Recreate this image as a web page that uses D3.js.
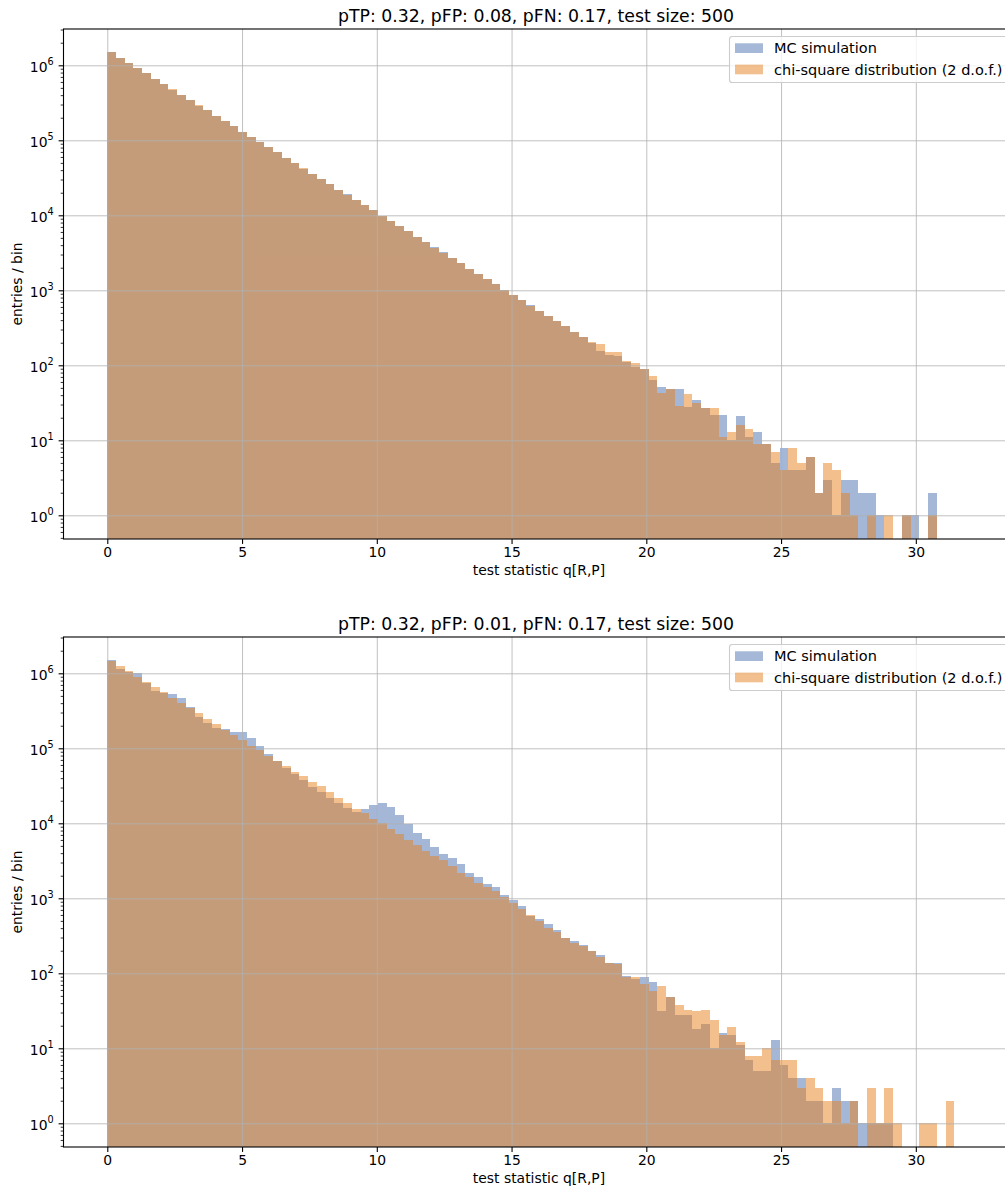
<!DOCTYPE html>
<html>
<head>
<meta charset="utf-8">
<script src="https://cdn.jsdelivr.net/npm/d3@7"></script>
<style>
  body { margin: 0; background: #fff; }
  svg { display: block; font-family: "DejaVu Sans", sans-serif; }
</style>
</head>
<body>
<svg id="chart" width="1005" height="1189"></svg>
<script>
// ----- data (entries per bin, bin width ~0.324) -----
const binWidth = 0.324;
const xTicks = [0, 5, 10, 15, 20, 25, 30];
const yTicks = [1, 10, 100, 1e3, 1e4, 1e5, 1e6];
const seriesNames = ["MC simulation", "chi-square distribution (2 d.o.f.)"];
const panelTitles = ["pTP: 0.32, pFP: 0.08, pFN: 0.17, test size: 500",
                     "pTP: 0.32, pFP: 0.01, pFN: 0.17, test size: 500"];

const mcCountsTop = [1.49e6,1.27e6,1.08e6,9.2e5,7.8e5,6.6e5,5.6e5,4.75e5,4.05e5,3.45e5,
  2.9e5,2.5e5,2.1e5,1.8e5,1.54e5,1.3e5,1.11e5,9.4e4,8.1e4,6.9e4,
  5.8e4,4.95e4,4.2e4,3.6e4,3.05e4,2.6e4,2.2e4,1.9e4,1.6e4,1.36e4,
  1.16e4,9.9e3,8.4e3,7.1e3,6.1e3,5.2e3,4.4e3,3.75e3,3.2e3,2.7e3,
  2.3e3,1.95e3,1.66e3,1.41e3,1.2e3,1.02e3,870,740,630,535,
  455,385,330,280,237,200,155,137,135,110,
  96,89,63,52,49,49,28,34,27,22,
  22,10,21,11,13,9,5,8,4,4,
  6,2,3,1,3,3,2,2,1,0,
  0,1,1,0,2];
const chiCountsTop = [1.49e6,1.27e6,1.08e6,9.2e5,7.8e5,6.6e5,5.6e5,4.78e5,4.05e5,3.46e5,
  2.92e5,2.5e5,2.12e5,1.8e5,1.53e5,1.31e5,1.11e5,9.5e4,8.1e4,6.9e4,
  5.85e4,4.95e4,4.25e4,3.6e4,3.05e4,2.6e4,2.2e4,1.88e4,1.6e4,1.36e4,
  1.16e4,9.8e3,8.4e3,7.1e3,6.1e3,5.15e3,4.4e3,3.7e3,3.15e3,2.7e3,
  2.3e3,1.95e3,1.65e3,1.41e3,1.2e3,1.02e3,860,740,625,530,
  455,390,330,280,240,205,190,152,150,115,
  106,89,73,43,49,29,41,31,27,27,
  11,13,16,14,9,9,7,4,8,5,
  6,2,5,4,2,1,0,1,0,1,
  0,1,0,0,1];
const mcCountsBottom = [1.51e6,1.13e6,1.03e6,1.0e6,7.36e5,5.8e5,5.4e5,5.3e5,4.64e5,3.55e5,
  2.64e5,2.18e5,1.85e5,1.81e5,1.67e5,1.63e5,1.36e5,1.07e5,8.5e4,6.8e4,
  5.4e4,4.6e4,3.8e4,3.05e4,2.6e4,2.2e4,1.85e4,1.6e4,1.43e4,1.53e4,
  1.73e4,1.85e4,1.64e4,1.3e4,9.8e3,7.4e3,6.1e3,4.9e3,3.9e3,3.4e3,
  2.9e3,2.2e3,1.9e3,1.55e3,1.4e3,1.1e3,960,790,580,530,
  450,380,300,270,235,200,175,136,137,92,
  83,89,76,31,48,28,28,18,21,10,
  16,15,11,7,5,5,13,6,4,4,
  2,2,1,3,2,2,1,1,1,1,
  0,0,0,0,0,0,0];
const chiCountsBottom = [1.46e6,1.25e6,1.07e6,9.0e5,7.7e5,6.57e5,5.6e5,4.74e5,4.06e5,3.48e5,
  2.96e5,2.49e5,2.11e5,1.76e5,1.52e5,1.29e5,1.07e5,9.4e4,8.0e4,6.8e4,
  5.8e4,4.9e4,4.3e4,3.6e4,3.1e4,2.6e4,2.2e4,1.85e4,1.56e4,1.36e4,
  1.15e4,1.0e4,8.4e3,7.1e3,6.0e3,5.2e3,4.3e3,3.7e3,3.2e3,2.7e3,
  2.2e3,1.9e3,1.6e3,1.4e3,1.27e3,1.05e3,860,730,600,500,
  400,360,300,250,230,200,167,136,133,88,
  88,71,58,68,48,38,32,31,32,24,
  15,19,12,8,8,10,7,7,7,3,
  4,3,2,2,1,2,0,3,1,3,
  1,0,0,1,1,0,2];

// ----- layout -----
const svg = d3.select("svg#chart");
const plotLeft = 63.5, plotRight = 1015;
const panelHeight = 510;
const panelTops = [29, 637];
const xDomain = [-1.625, 33.68];
const yDomain = [Math.pow(10, -0.316), Math.pow(10, 6.484)];
const colors = ["#4c72b0", "#e6801e"];
const fontSize = 13.9;
const legendFont = 14.5;

svg.append("rect").attr("width", 1005).attr("height", 1189).attr("fill", "#fff");

function drawPanel(top, title, mcCounts, chiCounts, idx) {
    const bottom = top + panelHeight;
    const x = d3.scaleLinear().domain(xDomain).range([plotLeft, plotRight]);
    const y = d3.scaleLog().domain(yDomain).range([bottom, top]);
    const g = svg.append("g").attr("class", "panel");

    const clipId = "clip" + idx;
    g.append("clipPath").attr("id", clipId)
     .append("rect").attr("x", plotLeft).attr("y", top)
     .attr("width", plotRight - plotLeft).attr("height", panelHeight);

    // histogram bars, MC first, chi-square on top
    [mcCounts, chiCounts].forEach((counts, k) => {
        const bins = counts.map((c, i) => ({i: i, c: c})).filter(d => d.c > 0);
        g.append("g")
         .attr("clip-path", "url(#" + clipId + ")")
         .attr("opacity", 0.5)
         .selectAll("rect").data(bins)
         .join("rect")
         .attr("shape-rendering", "crispEdges")
         .attr("x", d => x(d.i * binWidth))
         .attr("width", d => x((d.i + 1) * binWidth) - x(d.i * binWidth))
         .attr("y", d => y(d.c))
         .attr("height", d => bottom - y(d.c))
         .attr("fill", colors[k]);
    });

    // gridlines
    let vGrid = d3.axisBottom(x).tickValues(xTicks).tickSize(-panelHeight).tickFormat("");
    g.append("g").attr("class", "x gridlines")
     .attr("transform", "translate(0," + bottom + ")")
     .call(vGrid)
     .call(s => s.select(".domain").remove())
     .selectAll("line").attr("stroke", "#b0b0b0").attr("stroke-width", 0.8);
    let hGrid = d3.axisLeft(y).tickValues(yTicks).tickSize(-(plotRight - plotLeft)).tickFormat("");
    g.append("g").attr("class", "y gridlines")
     .attr("transform", "translate(" + plotLeft + ",0)")
     .call(hGrid)
     .call(s => s.select(".domain").remove())
     .selectAll("line").attr("stroke", "#b0b0b0").attr("stroke-width", 0.8);

    // spines
    g.append("rect").attr("x", plotLeft).attr("y", top)
     .attr("width", plotRight - plotLeft).attr("height", panelHeight)
     .attr("fill", "none").attr("stroke", "#000").attr("stroke-width", 1.1);

    // x axis
    let bottomAxis = d3.axisBottom(x).tickValues(xTicks).tickSize(4.9).tickPadding(3.1);
    g.append("g").attr("class", "x axis")
     .attr("transform", "translate(0," + bottom + ")")
     .call(bottomAxis)
     .attr("font-size", fontSize).attr("font-family", null)
     .call(s => s.select(".domain").remove())
     .call(s => s.selectAll(".tick line").attr("stroke-width", 1.1));

    // y axis: minor then major ticks with 10^n labels
    const minorTicks = [];
    for (let e = -1; e <= 6; e++) {
        for (let m = 2; m <= 9; m++) {
            const v = m * Math.pow(10, e);
            if (v >= yDomain[0] && v <= yDomain[1]) minorTicks.push(v);
        }
    }
    g.append("g").attr("class", "y minor")
     .attr("transform", "translate(" + plotLeft + ",0)")
     .call(d3.axisLeft(y).tickValues(minorTicks).tickSize(2.8).tickFormat(""))
     .call(s => s.select(".domain").remove())
     .call(s => s.selectAll(".tick line").attr("stroke-width", 0.8));
    let leftAxis = d3.axisLeft(y).tickValues(yTicks).tickSize(4.9).tickPadding(4.9).tickFormat("");
    const ya = g.append("g").attr("class", "y axis")
     .attr("transform", "translate(" + plotLeft + ",0)")
     .call(leftAxis)
     .attr("font-size", fontSize).attr("font-family", null)
     .call(s => s.select(".domain").remove())
     .call(s => s.selectAll(".tick line").attr("stroke-width", 1.1));
    ya.selectAll(".tick text").each(function(d) {
        const t = d3.select(this).attr("dy", null).attr("y", 6.2);
        t.append("tspan").text("10");
        t.append("tspan").attr("dy", -7).attr("font-size", 9.7)
         .text(Math.round(Math.log10(d)));
    });

    // labels
    g.append("text").attr("x", 536).attr("y", top - 7.5)
     .attr("text-anchor", "middle").attr("font-size", 17.3).text(title);
    g.append("text").attr("x", 539).attr("y", bottom + 36)
     .attr("text-anchor", "middle").attr("font-size", fontSize).text("test statistic q[R,P]");
    g.append("text")
     .attr("transform", "translate(22," + (top + panelHeight / 2) + ") rotate(-90)")
     .attr("text-anchor", "middle").attr("font-size", fontSize).text("entries / bin");

    // legend
    const leg = g.append("g").attr("class", "legend");
    leg.append("rect").attr("x", 729.5).attr("y", top + 7.5)
     .attr("width", 285).attr("height", 46).attr("rx", 2.8)
     .attr("fill", "#fff").attr("fill-opacity", 0.8)
     .attr("stroke", "#cccccc").attr("stroke-width", 1.1);
    seriesNames.forEach((name, k) => {
        const cy = top + 19.2 + k * 21.3;
        leg.append("rect").attr("x", 735).attr("y", cy - 4.9)
         .attr("width", 28).attr("height", 9.7)
         .attr("fill", colors[k]).attr("opacity", 0.5);
        leg.append("text").attr("x", 774).attr("y", cy + 5.2)
         .attr("font-size", legendFont).text(name);
    });
}

drawPanel(panelTops[0], panelTitles[0], mcCountsTop, chiCountsTop, 0);
drawPanel(panelTops[1], panelTitles[1], mcCountsBottom, chiCountsBottom, 1);
</script>
</body>
</html>
